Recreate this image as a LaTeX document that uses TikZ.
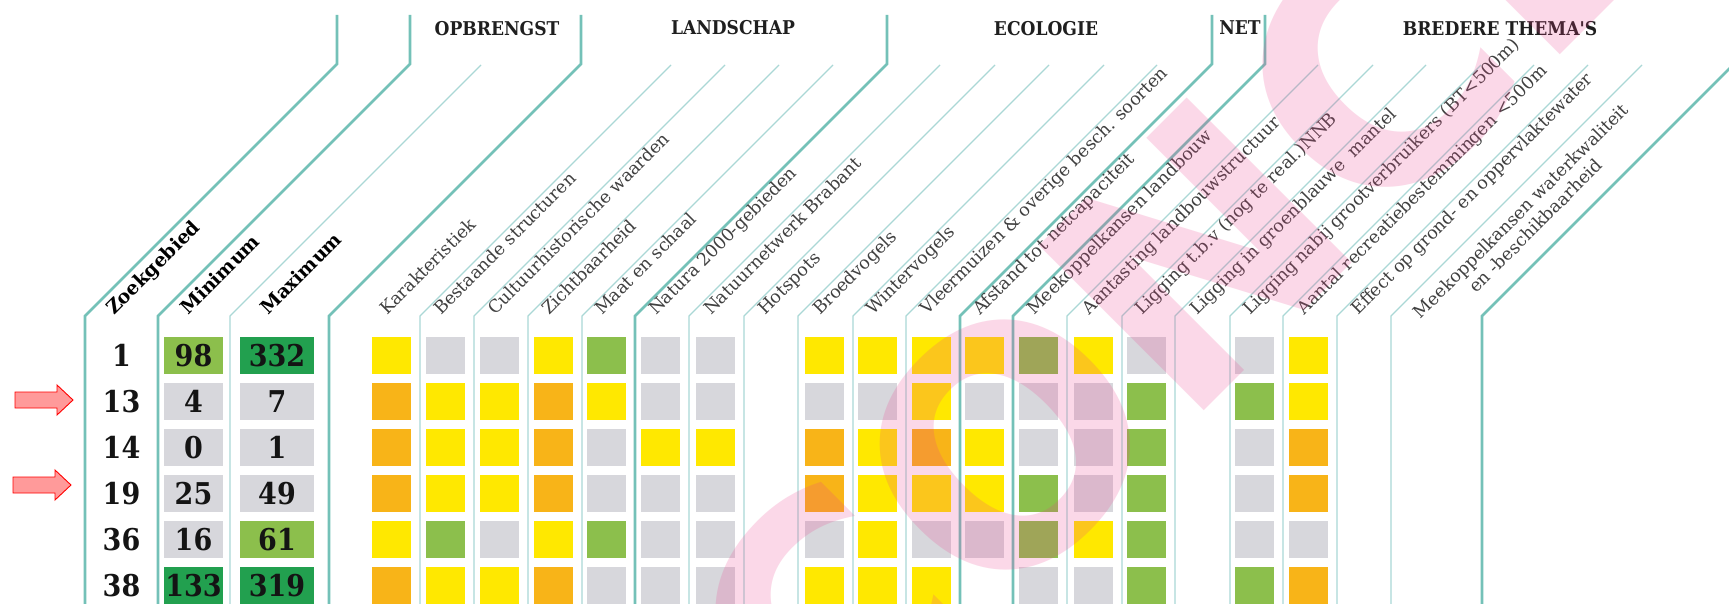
\documentclass[tikz,border=0pt]{standalone}
\usepackage{fontspec}
\setmainfont{DejaVu Serif}
\newfontfamily\condensed{DejaVu Serif Condensed}
\newfontfamily\stampfont{DejaVu Sans}
\usepackage{xcolor}
\definecolor{tealline}{HTML}{74C1B8}
\definecolor{paleline}{HTML}{AAD8D6}
\definecolor{cellY}{HTML}{FFE800}
\definecolor{cellO}{HTML}{F8B418}
\definecolor{cellG}{HTML}{8CBF4C}
\definecolor{cellR}{HTML}{D7D7DC}
\definecolor{cellD}{HTML}{22A04F}
\definecolor{arrowfill}{HTML}{FF9A9A}
\definecolor{stampink}{HTML}{EC408C}
\tikzset{
    group-line/.style = {draw=tealline, line width=2.6pt},
    column-line/.style = {draw=paleline, line width=1.1pt},
    column-label/.style = {rotate=45, anchor=base west, inner sep=0pt, text=black!75, font=\fontsize{17.5}{21}\selectfont},
    key-label/.style = {column-label, text=black, font=\fontsize{19}{21}\selectfont\bfseries},
    head-label/.style = {text=black!88, font=\condensed\fontsize{19}{21}\selectfont\bfseries},
    score/.style = {minimum width=39pt, minimum height=37pt, inner sep=0pt},
    value-box/.style = {minimum height=37pt, inner sep=0pt, text=black!92, font=\condensed\fontsize{30}{30}\selectfont\bfseries},
    pointer/.style = {draw=red, fill=arrowfill, line width=0.9pt, line join=miter},
    stamp/.style = {rotate=45, anchor=base west, inner sep=0pt, text=stampink, text opacity=0.2, font=\stampfont\fontsize{320}{320}\selectfont\bfseries},
}
\newcommand{\pointerat}[2]{%
  \draw[pointer] (#1,#2) ++(0,-8) -- ++(42,0) -- ++(0,-7) -- ++(16,15)
    -- ++(-16,15) -- ++(0,-7) -- ++(-42,0) -- cycle;}
\begin{document}
\begin{tikzpicture}[x=1pt, y=-1pt]
\clip (0,0) rectangle (1729,604);
\fill[white] (0,0) rectangle (1729,604);

% column lines: straight down, then 45 degrees up to the heading row
\foreach \x in {230,420,474,528,582,689,744,798,853,906,1067,1122,1175,1230,1283,1337,1391}
    \draw[column-line] (\x,604) -- (\x,316) -- ++(251,-251);
\foreach \x in {85,158,329,635,960,1013,1482}
    \draw[group-line] (\x,604) -- (\x,316) -- ++(252,-252) -- ++(0,-49);

% group headings
\node[head-label] (opbrengst) at (497,29) {OPBRENGST};
\node[head-label] (landschap) at (733,28) {LANDSCHAP};
\node[head-label] (ecologie) at (1046,29) {ECOLOGIE};
\node[head-label] (net) at (1240,28) {NET};
\node[head-label] (bredere) at (1500,29) {BREDERE THEMA'S};

% slanted column names
\node[key-label] (zoek) at (114,316) {Zoekgebied};
\node[key-label] (minimum) at (188,316) {Minimum};
\node[key-label] (maximum) at (268,316) {Maximum};
\foreach \xr/\txt [count=\k] in {420/Karakteristiek, 474/Bestaande structuren, 528/Cultuurhistorische waarden, 582/Zichtbaarheid, 635/Maat en schaal, 689/Natura 2000-gebieden, 744/Natuurnetwerk Brabant, 798/Hotspots, 853/Broedvogels, 906/Wintervogels, 960/Vleermuizen \& overige besch. soorten, 1013/Afstand tot netcapaciteit, 1067/Meekoppelkansen landbouw, 1122/Aantasting landbouwstructuur, 1175/Ligging t.b.v (nog te real.)NNB, 1230/Ligging in groenblauwe~ mantel, 1283/Ligging nabij grootverbruikers (BT<500m), 1337/Aantal recreatiebestemmingen <500m, 1391/Effect op grond- en oppervlaktewater}
    \node[column-label] (label-\k) at (\xr-33,316) {\txt};
\node[column-label, align=center, anchor=south west] (label-20) at (1436,335) {Meekoppelkansen waterkwaliteit\\en -beschikbaarheid};

% score squares, one row per zoekgebied
\foreach \cols [count=\r] in {
    {Y,R,R,Y,G,R,R,Y,Y,Y,Y,G,Y,R,R,Y},
    {O,Y,Y,O,Y,R,R,R,R,Y,R,R,R,G,G,Y},
    {O,Y,Y,O,R,Y,Y,O,Y,O,Y,R,R,G,R,O},
    {O,Y,Y,O,R,R,R,O,Y,Y,Y,G,R,G,R,O},
    {Y,G,R,Y,G,R,R,R,Y,R,R,G,Y,G,R,R},
    {O,Y,Y,O,R,R,R,Y,Y,Y,N,R,R,G,G,O}}
  \foreach \c [count=\k] in \cols {
    \pgfmathsetmacro{\xr}{{420,474,528,582,635,689,744,853,906,960,1013,1067,1122,1175,1283,1337}[\k-1]}
    \if\c N\else
      \node[score, fill=cell\c] (sq-\r-\k) at (\xr-28.5, 355.5+46*\r-46) {};
    \fi
  }

% zoekgebied, minimum, maximum
\foreach \zone/\lo/\locol/\hi/\hicol [count=\r] in {1/98/cellG/332/cellD, 13/4/cellR/7/cellR, 14/0/cellR/1/cellR, 19/25/cellR/49/cellR, 36/16/cellR/61/cellG, 38/133/cellD/319/cellD} {
    \node[value-box] (zone-\r) at (121.5, 355.5+46*\r-46) {\zone};
    \node[value-box, fill=\locol, minimum width=59pt] (min-\r) at (193.5, 355.5+46*\r-46) {\lo};
    \node[value-box, fill=\hicol, minimum width=74pt] (max-\r) at (277, 355.5+46*\r-46) {\hi};
}

% markers
\pointerat{15}{400}
\pointerat{13}{485}

% watermark
\node[stamp] (watermark) at (825,790) {CONCEPT};
\end{tikzpicture}
\end{document}
